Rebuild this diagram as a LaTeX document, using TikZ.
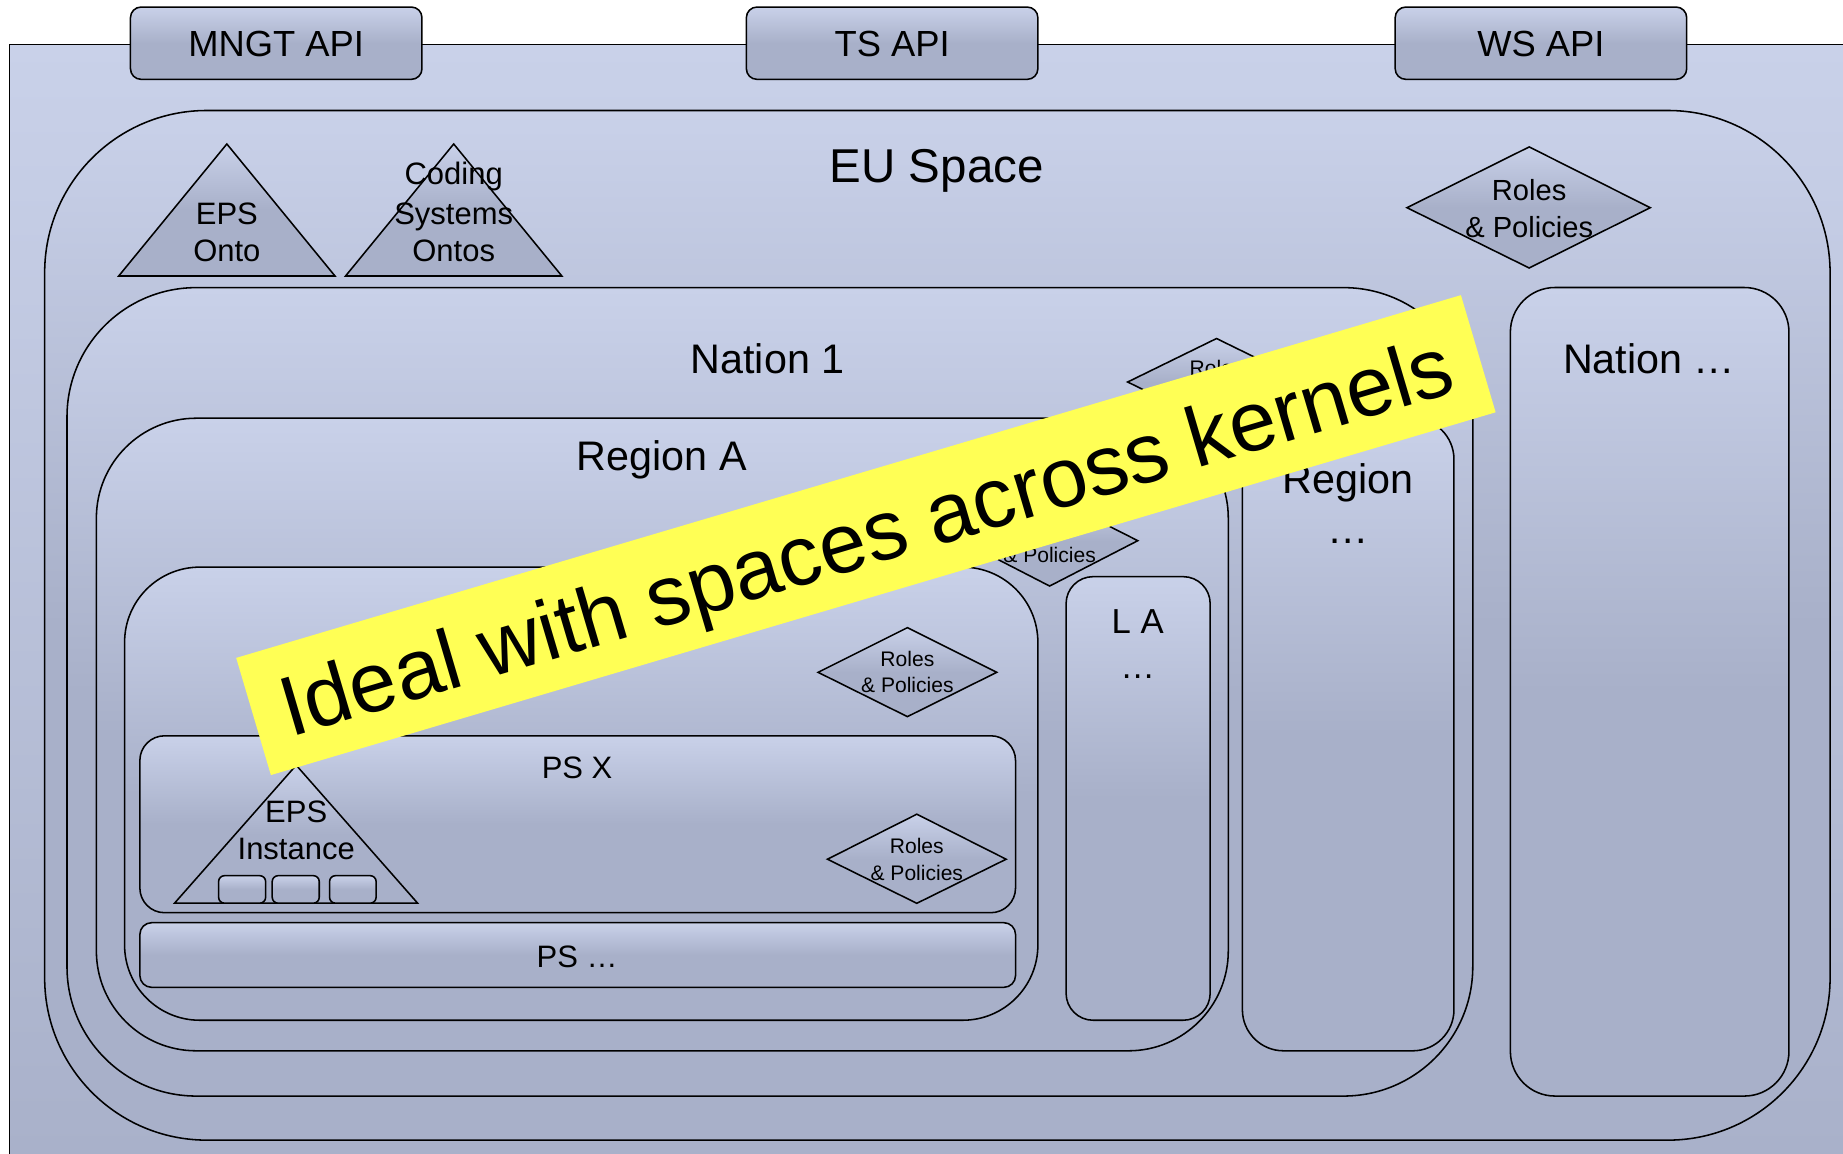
\documentclass[tikz,border=0pt]{standalone}
\usepackage{fontspec}
\setmainfont{Liberation Sans}
\definecolor{cL}{RGB}{201,209,233}
\definecolor{cD}{RGB}{168,176,201}
\definecolor{ban}{RGB}{255,255,85}
\newcommand\fs[1]{\fontsize{#1}{#1}\selectfont}
\tikzset{
  sh/.style={draw=black, line width=0.75pt, top color=cL, bottom color=cD, middle color=cD},
  lbl/.style={anchor=base, inner sep=0pt, text=black},
}
\newcommand\lb[5]{\node[lbl, font=\fs{#4}] (#1) at (#2,#3) {#5};}
\begin{document}
\begin{tikzpicture}[x=0.02cm,y=-0.02cm]
\useasboundingbox (0,0) rectangle (1568,981);
\clip (0,0) rectangle (1568,981);
% background frame
\path[draw=black, line width=0.75pt, top color=cL, bottom color=cD] (8,38) rectangle (1600,1010);
% API boxes
\path[sh, rounded corners=0.18cm] (111,6) rectangle (359,67.5);
\path[sh, rounded corners=0.18cm] (635,6) rectangle (883,67.5);
\path[sh, rounded corners=0.18cm] (1187,6) rectangle (1435,67.5);
% EU space
\path[sh, rounded corners=2.76cm] (38,94) rectangle (1557,970);
\path[sh] (193,122.5) -- (285,234.8) -- (101,234.8) -- cycle;
\path[sh] (386,122.5) -- (478,234.8) -- (294,234.8) -- cycle;
\path[sh] (1301,125) -- (1404,176.7) -- (1301,228) -- (1197,176.7) -- cycle;
% Nation 1
\path[sh, rounded corners=2.2cm] (57,244.7) rectangle (1253,932.5);
\path[sh] (1035,288) -- (1110.6,325) -- (1035,362) -- (959.4,325) -- cycle;
% Region A
\path[sh, rounded corners=1.7cm] (82,355.8) rectangle (1045,894);
\path[sh] (893,422) -- (968,460) -- (893,498.6) -- (818,460) -- cycle;
% local authority
\path[sh, rounded corners=1.28cm] (106,482.5) rectangle (883,868);
\path[sh] (772,534) -- (848,572) -- (772,609.7) -- (696,572) -- cycle;
% PS X
\path[sh, rounded corners=0.42cm] (119,626) rectangle (864,776.5);
\path[sh] (252,651) -- (355.3,768.4) -- (148.5,768.4) -- cycle;
\path[sh, rounded corners=0.1cm] (186,745) rectangle (226,768.4);
\path[sh, rounded corners=0.1cm] (231.6,745) rectangle (271.6,768.4);
\path[sh, rounded corners=0.1cm] (280.4,745) rectangle (320,768.4);
\path[sh] (780,692.7) -- (856,731) -- (780,768.5) -- (704,731) -- cycle;
% PS ...
\path[sh, rounded corners=0.2cm] (119,785) rectangle (864,840);
% L A ...
\path[sh, rounded corners=0.46cm] (907,490.6) rectangle (1029.6,868);
% Region ...
\path[sh, rounded corners=0.7cm] (1057,355.8) rectangle (1237,894);
% Nation ...
\path[sh, rounded corners=0.76cm] (1285,244.6) rectangle (1522,932.5);
% labels
\lb{mngt}{235}{48.2}{17.6pt}{MNGT API}
\lb{ts}{759}{48.2}{17.6pt}{TS API}
\lb{ws}{1311}{48.2}{17.6pt}{WS API}
\lb{eu}{797}{155.5}{23pt}{EU Space}
\lb{epsonto1}{193}{191}{15pt}{EPS}
\lb{epsonto2}{193}{222.5}{15pt}{Onto}
\lb{coding1}{386}{157}{15pt}{Coding}
\lb{coding2}{386}{191}{15pt}{Systems}
\lb{coding3}{386}{222.5}{15pt}{Ontos}
\lb{eurp1}{1301}{171}{14.1pt}{Roles}
\lb{eurp2}{1301}{202}{14.1pt}{\& Policies}
\lb{nation1}{653}{318}{20pt}{Nation 1}
\lb{narp1}{1035}{319.5}{10.2pt}{Roles}
\lb{narp2}{1035}{341.5}{10.2pt}{\& Policies}
\lb{regiona}{563}{400}{20pt}{Region A}
\lb{rarp1}{893}{456.4}{10.2pt}{Roles}
\lb{rarp2}{893}{478.4}{10.2pt}{\& Policies}
\lb{larp1}{772}{567.4}{10.2pt}{Roles}
\lb{larp2}{772}{589.4}{10.2pt}{\& Policies}
\lb{psx}{491}{662.4}{15pt}{PS X}
\lb{epsi1}{252}{700}{15pt}{EPS}
\lb{epsi2}{252}{731.4}{15pt}{Instance}
\lb{psrp1}{780}{726.4}{10.2pt}{Roles}
\lb{psrp2}{780}{749}{10.2pt}{\& Policies}
\lb{psdots}{491}{823.4}{15pt}{PS …}
\lb{la1}{968}{538.6}{16.8pt}{L A}
\lb{la2}{968}{577}{16.8pt}{…}
\lb{region1}{1147}{419.6}{20pt}{Region}
\lb{region2}{1147}{462}{20pt}{…}
\lb{nationd}{1403}{317.7}{20pt}{Nation …}
% banner
\node[rotate=16.5, fill=ban, draw=none, minimum width=21.74cm, minimum height=2.08cm, inner sep=0pt] (banner) at (736.7,455.25) {};
\node[lbl, rotate=16.5, font=\fs{41pt}] (bannertext) at (744,480) {Ideal with spaces across kernels};
\end{tikzpicture}
\end{document}
